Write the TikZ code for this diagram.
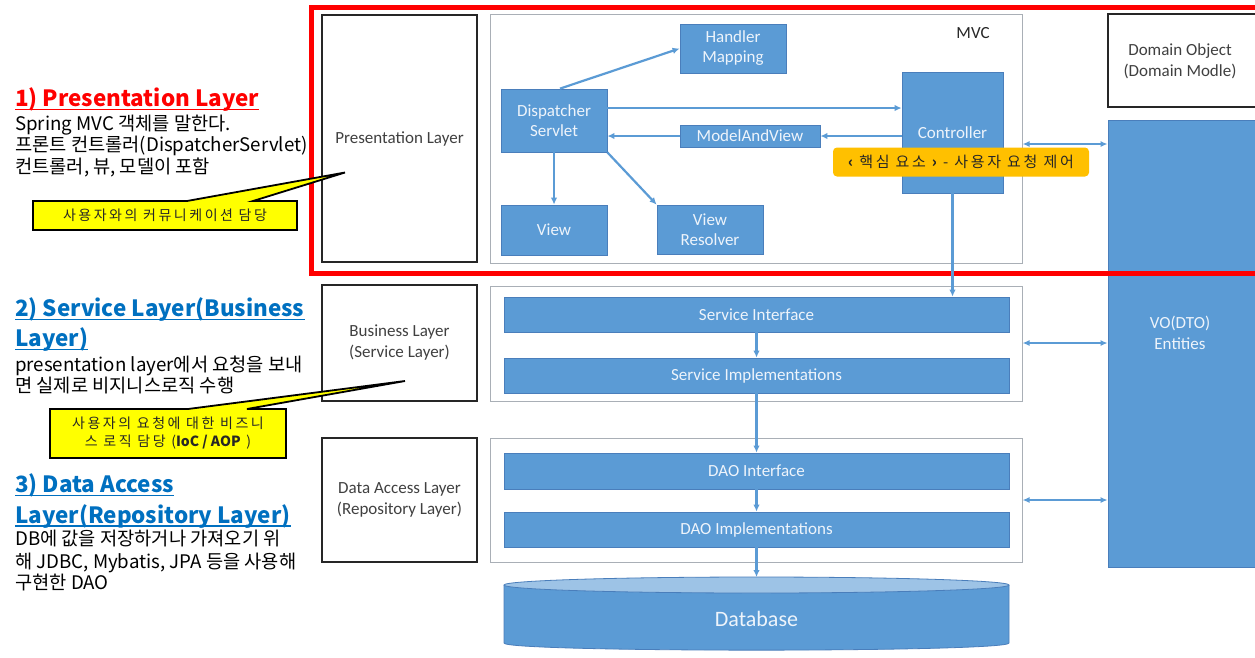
\documentclass[tikz,border=0pt]{standalone}
\usepackage{fontspec}
\setmainfont{Carlito}
\newfontfamily\kr{Noto Sans CJK KR}
\newfontfamily\krw[LetterSpace=18]{Noto Sans CJK KR}
\usetikzlibrary{arrows.meta}
\definecolor{bx}{HTML}{5B9BD5}
\definecolor{bxline}{HTML}{4A7EBB}
\definecolor{arr}{HTML}{5B9BD5}
\definecolor{txtw}{HTML}{EEF4FB}
\definecolor{lbl}{HTML}{404040}
\definecolor{hblue}{HTML}{0070C0}
\definecolor{calloutY}{HTML}{FFFF00}
\definecolor{coreO}{HTML}{FFC000}
\definecolor{dbtopc}{HTML}{9DC3E6}
\definecolor{contline}{HTML}{A9AFB6}
\newcommand\boxat[7]{\node[#6, minimum width={(#4)-(#2)}, minimum height={(#5)-(#3)}] (#1) at ({((#2)+(#4))/2},{((#3)+(#5))/2}) {#7};}
\begin{document}
\begin{tikzpicture}[x=1pt,y=-1pt,
  bluebox/.style={draw=bxline, line width=0.8pt, fill=bx, text=txtw, font=\fontsize{17}{20}\selectfont, align=center, inner sep=0pt},
  layerbox/.style={draw=black!85, line width=1.3pt, fill=white, text=lbl, font=\fontsize{17}{21}\selectfont, align=center, inner sep=0pt},
  container/.style={draw=contline, line width=1pt, inner sep=0pt},
  flow/.style={draw=arr, line width=2.2pt, -{Latex[length=7pt,width=6.5pt]}},
  both/.style={draw=arr, line width=1.6pt, {Latex[length=7pt,width=6pt]}-{Latex[length=7pt,width=6pt]}},
  ktext/.style={anchor=base west, inner sep=0pt, font=\kr\fontsize{18.7}{22}\selectfont, text=black},
  khead/.style={anchor=base west, inner sep=0pt, font=\kr\bfseries\fontsize{22.4}{26}\selectfont},
  callout/.style={fill=calloutY, draw=black, line width=1.8pt, line join=miter},
  ctext/.style={font=\krw\fontsize{14}{18}\selectfont, text=black!85, align=center, inner sep=0pt}
]
\useasboundingbox (0,0) rectangle (1255,657);
\fill[white] (0,0) rectangle (1255,657);

% containers
\boxat{mvc}{490}{14}{1022}{263}{container}{}
\boxat{svcc}{490}{286}{1022}{401}{container}{}
\boxat{daoc}{490}{438}{1022}{562}{container}{}
\node[font=\fontsize{17}{20}\selectfont, text=black!85] (mvct) at (973,33) {MVC};

% layer boxes
\boxat{pl}{322}{15}{477}{262}{layerbox}{Presentation Layer}
\boxat{bl}{322}{285}{477}{401}{layerbox}{Business Layer\\(Service Layer)}
\boxat{dal}{322}{438}{477}{562}{layerbox}{Data Access Layer\\(Repository Layer)}

% MVC inner boxes
\boxat{hm}{680}{24}{786}{73}{bluebox}{Handler\\Mapping}
\boxat{ds}{501}{89}{607}{152}{bluebox}{Dispatcher\\Servlet}
\boxat{ctrl}{902}{72}{1003}{193}{bluebox}{Controller}
\boxat{mav}{680}{125}{820}{147}{bluebox}{ModelAndView}
\boxat{view}{501}{205}{607}{255}{bluebox}{View}
\boxat{vr}{657}{205}{763}{254}{bluebox}{View\\Resolver}

% service / dao
\boxat{si}{504}{297}{1009}{332}{bluebox}{Service Interface}
\boxat{simpl}{504}{358}{1009}{393}{bluebox}{Service Implementations}
\boxat{daoi}{504}{453}{1009}{489}{bluebox}{DAO Interface}
\boxat{daoimpl}{504}{512}{1009}{547}{bluebox}{DAO Implementations}

% database
\fill[bx] (504,585) -- (504,643) .. controls (504,652.5) and (1009,652.5) .. (1009,643) -- (1009,585) -- cycle;
\draw[bxline, line width=0.8pt] (504,585) -- (504,643) .. controls (504,652.5) and (1009,652.5) .. (1009,643) -- (1009,585);
\fill[dbtopc, draw=bxline, line width=0.8pt] (756.5,585) ellipse [x radius=252.5pt, y radius=8pt];
\coordinate (dbt) at (756.5,577);
\node[font=\fontsize{22}{24}\selectfont, text=txtw] (db) at (756.5,619) {Database};

% right side boxes (clipped)
\begin{scope}
\clip (0,0) rectangle (1255,657);
\boxat{dom}{1108}{14}{1264}{107}{layerbox}{}
\boxat{vo}{1108}{120}{1264}{567}{bluebox}{}
\draw[red, line width=5pt] (311,7) rectangle (1275,273);
\end{scope}
\node[font=\fontsize{17}{21}\selectfont, text=lbl, align=center] (domt) at (1180,61) {Domain Object\\(Domain Modle)};
\node[font=\fontsize{17}{21}\selectfont, text=txtw, align=center] (vot) at (1180,333) {VO(DTO)\\Entities};

% helper coordinates
\coordinate (r1) at (0,108);
\coordinate (r3) at (0,144);
\coordinate (r4) at (0,343);
\coordinate (r5) at (0,500);

% arrows
\draw[flow] ([xshift=6pt]ds.north) -- (hm.west);
\draw[flow] (ds.east |- r1) -- (ctrl.west |- r1);
\draw[flow] (ctrl.west |- mav.east) -- (mav.east);
\draw[flow] (mav.west) -- (ds.east |- mav.west);
\draw[flow] (ds.south) -- (view.north);
\draw[flow] (ds.south east) -- (vr.north west);
\draw[flow] (ctrl.south) -- (si.north -| ctrl.south);
\draw[flow] (si.south) -- (simpl.north);
\draw[flow] (simpl.south) -- (daoi.north);
\draw[flow] (daoi.south) -- (daoimpl.north);
\draw[flow] (daoimpl.south) -- (dbt);
\draw[both] (mvc.east |- r3) -- (vo.west |- r3);
\draw[both] (svcc.east |- r4) -- (vo.west |- r4);
\draw[both] (daoc.east |- r5) -- (vo.west |- r5);

% core label
\node[fill=coreO, rounded corners=4pt, minimum width=256pt, minimum height=29pt, inner sep=0pt, font=\krw\fontsize{15}{17}\selectfont, text=black!85] (core) at (961,162) {{\bfseries ‹} 핵심 요소 {\bfseries ›} - 사용자 요청 제어};

% left texts
\node[khead, text=red] (h1) at (15,106.5) {1) Presentation Layer};
\draw[red, line width=1.4pt] ([yshift=-3pt]h1.base west) -- ([yshift=-3pt]h1.base east);
\node[ktext] (t11) at (15,130) {Spring MVC 객체를 말한다.};
\node[ktext] (t12) at (15,151.5) {프론트 컨트롤러(DispatcherServlet)};
\node[ktext] (t13) at (15,173) {컨트롤러, 뷰, 모델이 포함};

\node[khead, text=hblue] (h2a) at (15,316.5) {2) Service Layer(Business};
\node[khead, text=hblue] (h2b) at (15,346.5) {Layer)};
\draw[hblue, line width=1.4pt] ([yshift=-3pt]h2a.base west) -- ([yshift=-3pt]h2a.base east);
\draw[hblue, line width=1.4pt] ([yshift=-3pt]h2b.base west) -- ([yshift=-3pt]h2b.base east);
\node[ktext] (t21) at (15,371.5) {presentation layer에서 요청을 보내};
\node[ktext] (t22) at (15,392.5) {면 실제로 비지니스로직 수행};

\node[khead, text=hblue] (h3a) at (15,492.5) {3) Data Access};
\node[khead, text=hblue] (h3b) at (15,523) {Layer(Repository Layer)};
\draw[hblue, line width=1.4pt] ([yshift=-3pt]h3a.base west) -- ([yshift=-3pt]h3a.base east);
\draw[hblue, line width=1.4pt] ([yshift=-3pt]h3b.base west) -- ([yshift=-3pt]h3b.base east);
\node[ktext] (t31) at (15,545.5) {DB에 값을 저장하거나 가져오기 위};
\node[ktext] (t32) at (15,568) {해 JDBC, Mybatis, JPA 등을 사용해};
\node[ktext] (t33) at (15,589.5) {구현한 DAO};

% callouts
\draw[callout] (33,201) -- (187,201) -- (345,172.5) -- (253,201) -- (297,201) -- (297,230) -- (33,230) -- cycle;
\node[ctext] (c1) at (165,215.5) {사용자와의 커뮤니케이션 담당};
\draw[callout] (50,409) -- (188,409) -- (405,381) -- (247,409) -- (286,409) -- (286,458) -- (50,458) -- cycle;
\node[ctext] (c2) at (168,433.5) {사용자의 요청에 대한 비즈니\\스 로직 담당 ({\kr\bfseries IoC / AOP} )};
\end{tikzpicture}
\end{document}
